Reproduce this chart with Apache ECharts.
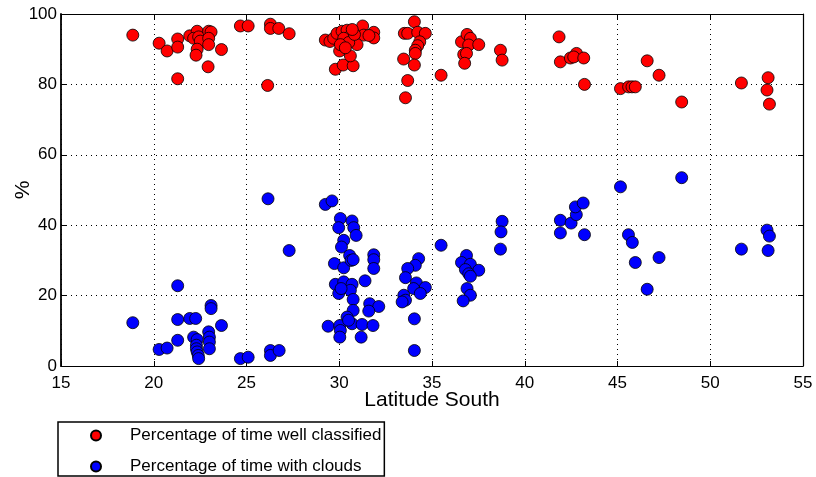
<!DOCTYPE html>
<html>
  <head>
    <meta charset="utf-8">
    <title>Latitude South scatter</title>
    <script src="https://cdn.jsdelivr.net/npm/echarts@6/dist/echarts.min.js"></script>
    <style>
      body { margin: 0; background: #fff; }
    </style>
  </head>
  <body>
    <div id="main" style="width:816px;height:477px;"></div>
    <script>
// latitude / percentage
var wellLat = [18.87,20.29,20.72,21.29,21.29,21.29,21.94,22.34,22.15,22.42,22.51,22.96,23.09,22.96,22.96,22.34,22.28,22.93,23.65,
  24.67,25.09,26.14,26.29,26.29,26.74,27.30,29.25,29.50,29.70,29.79,30.21,30.75,30.60,30.02,31.26,31.86,31.86,31.32,30.96,
  29.88,30.15,30.42,30.60,30.24,30.51,30.82,30.06,30.33,31.60,30.70,33.51,33.69,34.05,34.23,34.64,34.34,34.23,34.10,34.10,
  33.47,34.05,33.69,33.57,35.49,36.59,36.89,37.07,36.98,36.71,36.86,36.76,37.52,38.69,38.78,41.85,41.92,42.46,42.79,42.64,
  43.18,43.22,45.16,45.60,45.78,45.96,46.60,47.24,48.46,51.68,53.12,53.06,53.19];
var wellPct = [94.0,91.7,89.5,92.9,90.6,81.6,93.8,95.1,93.1,93.5,92.3,95.1,94.9,93.1,91.3,90.0,88.3,85.0,89.9,
  96.6,96.6,79.7,97.1,95.9,95.9,94.4,92.6,92.2,93.1,84.3,85.5,85.3,88.1,89.5,96.6,94.8,93.2,94.0,91.3,
  94.5,95.1,95.4,93.8,93.1,91.9,94.2,91.3,90.4,93.9,95.6,94.5,94.5,97.8,94.8,94.5,92.1,91.0,89.7,88.8,
  87.2,85.5,81.1,76.2,82.6,92.1,94.2,93.1,91.2,88.5,88.8,86.0,91.3,89.7,86.9,93.5,86.4,87.5,88.8,87.8,
  87.5,80.0,78.8,79.3,79.3,79.3,86.7,82.6,75.0,80.4,81.9,78.4,74.4];

var cloudLat = [18.87,20.29,20.72,21.29,21.29,21.29,21.94,22.26,22.15,22.34,22.30,22.30,22.34,22.40,22.42,23.09,23.09,22.96,23.00,23.00,
  23.00,23.65,24.67,25.09,26.16,26.29,26.29,26.76,27.30,29.25,29.61,29.40,30.06,29.97,30.69,30.78,30.91,30.24,30.12,29.74,
  30.24,30.56,30.64,30.75,31.86,31.86,31.86,29.79,30.24,29.97,30.69,30.60,30.75,30.75,31.39,31.64,32.13,31.59,30.42,30.69,
  31.23,31.82,31.18,30.03,30.06,30.03,30.10,30.50,34.28,34.10,33.69,33.57,34.16,34.01,34.64,34.37,33.48,33.57,33.39,34.05,
  34.05,35.49,36.86,36.59,37.07,36.80,37.52,36.98,37.07,36.89,37.07,36.68,38.78,38.72,38.69,41.92,41.92,42.50,42.78,42.73,
  43.15,43.22,45.16,45.59,45.80,45.96,46.60,47.24,48.46,51.68,53.06,53.19,53.12];
var cloudPct = [12.3,4.7,5.1,22.8,13.2,7.3,13.5,13.5,8.2,7.5,5.9,4.9,4.0,3.0,2.1,17.2,16.3,9.7,8.2,6.8,
  4.9,11.5,2.1,2.5,47.5,4.4,3.0,4.4,32.8,45.9,46.9,11.3,41.9,39.3,41.2,39.3,37.1,35.7,33.8,29.1,
  27.9,31.4,30.0,30.2,31.6,30.2,27.7,23.2,23.9,20.6,23.2,21.5,18.9,15.8,24.2,17.7,16.9,15.6,13.9,12.0,
  11.8,11.5,8.2,11.5,10.1,8.2,22.0,13.0,30.5,28.6,27.7,25.1,23.6,22.0,22.3,20.6,20.1,18.7,18.2,13.4,
  4.4,34.3,31.4,29.4,28.9,27.4,27.2,26.2,25.5,22.0,20.1,18.5,41.1,38.1,33.2,41.4,37.8,40.6,43.0,45.2,
  46.3,37.3,50.9,37.3,35.1,29.4,21.8,30.8,53.5,33.2,38.6,36.9,32.8];

var xTicks = [15, 55, 5];
var yTicks = [0, 100, 20];

function pairs(xs, ys) {
  var out = [];
  for (var i = 0; i < xs.length; i++) out.push([xs[i], ys[i]]);
  return out;
}

var font = 'Liberation Sans';
var myChart = echarts.init(document.getElementById('main'));

function xAx(pos, show) {
  return {
    type: 'value', position: pos, min: xTicks[0], max: xTicks[1], interval: xTicks[2],
    name: show ? 'Latitude South' : '', nameLocation: 'middle', nameGap: 24, nameMoveOverlap: false,
    nameTextStyle: { fontFamily: font, fontSize: 21, color: '#000' },
    axisLine: { show: true, onZero: false, lineStyle: { color: '#000', width: 1.2 } },
    axisTick: { show: true, inside: true, length: 5, lineStyle: { color: '#000' } },
    axisLabel: { show: show, color: '#000', fontFamily: font, fontSize: 17, margin: 9 },
    splitLine: { show: show, lineStyle: { color: '#000', type: [1, 4], width: 1 } }
  };
}
function yAx(pos, show) {
  return {
    type: 'value', position: pos, min: yTicks[0], max: yTicks[1], interval: yTicks[2],
    name: show ? '%' : '', nameLocation: 'middle', nameGap: 27, nameMoveOverlap: false,
    nameTextStyle: { fontFamily: font, fontSize: 21, color: '#000' },
    axisLine: { show: true, onZero: false, lineStyle: { color: '#000', width: show ? 1.8 : 1.2 } },
    axisTick: { show: true, inside: true, length: 5, lineStyle: { color: '#000' } },
    axisLabel: { show: show, color: '#000', fontFamily: font, fontSize: 17, margin: 4 },
    splitLine: { show: show, lineStyle: { color: '#000', type: [1, 4], width: 1 } }
  };
}

myChart.setOption({
  animation: false,
  grid: { left: 61, right: 13, top: 14, bottom: 111, outerBoundsMode: 'none', containLabel: false },
  xAxis: [xAx('bottom', true), xAx('top', false)],
  yAxis: [yAx('left', true), yAx('right', false)],
  legend: {
    orient: 'vertical', left: 58, top: 422,
    padding: [5, 3, 1, 32], itemGap: 14,
    itemWidth: 10, itemHeight: 10,
    borderColor: '#000', borderWidth: 1.5,
    textStyle: { fontFamily: font, fontSize: 17, color: '#000', padding: [0, 0, 0, 24] },
    data: ['Percentage of time well classified', 'Percentage of time with clouds']
  },
  series: [{
    name: 'Percentage of time well classified',
    type: 'scatter', symbolSize: 12,
    itemStyle: { color: '#ff0000', borderColor: '#000', borderWidth: 0.8, opacity: 1 },
    data: pairs(wellLat, wellPct)
  }, {
    name: 'Percentage of time with clouds',
    type: 'scatter', symbolSize: 12,
    itemStyle: { color: '#0000ff', borderColor: '#000', borderWidth: 0.8, opacity: 1 },
    data: pairs(cloudLat, cloudPct)
  }]
});
    </script>
  </body>
</html>
